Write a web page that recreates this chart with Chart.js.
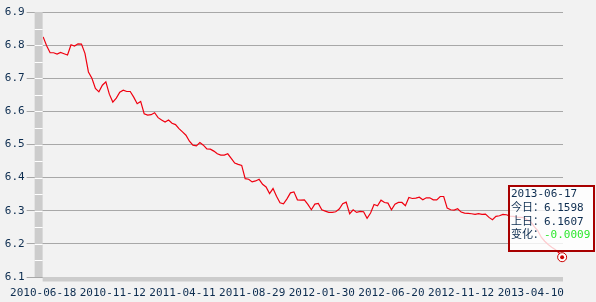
<!DOCTYPE html>
<html>
<head>
<meta charset="utf-8">
<script src="https://cdn.jsdelivr.net/npm/chart.js@4/dist/chart.umd.min.js"></script>
<style>
	html, body { margin: 0; padding: 0; background: #f2f2f2; }
	#wrap { width: 596px; height: 302px; }
</style>
</head>
<body>
<div id="wrap"><canvas id="rateChart" width="596" height="302"></canvas></div>
<script>
// x tick labels, one every 20 points
const tickLabels = [
	"2010-06-18", "2010-11-12", "2011-04-11", "2011-08-29",
	"2012-01-30", "2012-06-20", "2012-11-12", "2013-04-10",
];
const labelStep = 20;

// USD/CNY rate (roughly one point per week)
const rates = [
	6.825, 6.798, 6.777, 6.777, 6.773, 6.778, 6.774, 6.770, 6.801, 6.797,
	6.804, 6.803, 6.775, 6.719, 6.700, 6.669, 6.659, 6.679, 6.689, 6.652,
	6.628, 6.640, 6.658, 6.664, 6.660, 6.660, 6.643, 6.623, 6.630, 6.593,
	6.589, 6.590, 6.596, 6.581, 6.574, 6.568, 6.574, 6.564, 6.560, 6.548,
	6.538, 6.528, 6.510, 6.498, 6.496, 6.506, 6.498, 6.487, 6.486, 6.480,
	6.472, 6.468, 6.468, 6.472, 6.458, 6.444, 6.440, 6.437, 6.397, 6.395,
	6.387, 6.390, 6.395, 6.380, 6.372, 6.352, 6.367, 6.344, 6.324, 6.321,
	6.336, 6.354, 6.357, 6.333, 6.332, 6.333, 6.319, 6.303, 6.320, 6.322,
	6.303, 6.299, 6.295, 6.295, 6.297, 6.305, 6.321, 6.326, 6.291, 6.303,
	6.295, 6.298, 6.297, 6.277, 6.293, 6.319, 6.315, 6.332, 6.325, 6.323,
	6.303, 6.320, 6.325, 6.325, 6.315, 6.340, 6.337, 6.338, 6.341, 6.333,
	6.339, 6.339, 6.333, 6.333, 6.343, 6.343, 6.308, 6.303, 6.302, 6.306,
	6.296, 6.293, 6.292, 6.291, 6.289, 6.291, 6.289, 6.290, 6.280, 6.273,
	6.283, 6.285, 6.289, 6.288, 6.284, 6.283, 6.281, 6.280, 6.279, 6.272,
	6.266, 6.252, 6.240, 6.220, 6.208, 6.198, 6.190, 6.183, 6.174, 6.1598,
];

// y axis range
const yMin = 6.1;
const yMax = 6.9;
const yStep = 0.1;

// tooltip content for the last day
const tipDate = "2013-06-17";
const tipToday = 6.1598;
const tipPrev = 6.1607;
const tipNames = ["今日：", "上日：", "变化："];

const textColor = "#0d2d50";
const monoFont = "'DejaVu Sans Mono', 'Noto Sans CJK SC', monospace";

const decor = {
	id: "decor",
	beforeDraw(chart) {
		const ctx = chart.ctx;
		ctx.save();
		ctx.fillStyle = "#f2f2f2";
		ctx.fillRect(0, 0, chart.width, chart.height);
		ctx.restore();
	},
	afterDraw(chart) {
		const { ctx, chartArea: a, scales } = chart;
		const y = scales.y;
		ctx.save();

		// gray frame bars on the left and bottom
		ctx.fillStyle = "#cccccc";
		ctx.fillRect(a.left - 8, a.top, 8, a.bottom - a.top);
		ctx.fillRect(a.left, a.bottom, a.right - a.left, 4.5);

		// white notches on the left bar, every half step
		ctx.strokeStyle = "#ffffff";
		ctx.lineWidth = 1;
		for (let v = yMin + yStep / 2; v < yMax - 0.001; v += yStep / 2) {
			const py = Math.round(y.getPixelForValue(v)) + 0.5;
			ctx.beginPath();
			ctx.moveTo(a.left - 8, py);
			ctx.lineTo(a.left, py);
			ctx.stroke();
		}

		// tooltip box
		const bx = 509, by = 186, bw = 85, bh = 65;
		ctx.fillStyle = "rgba(255,255,255,0.8)";
		ctx.fillRect(bx, by, bw, bh);
		ctx.strokeStyle = "#a80000";
		ctx.lineWidth = 2;
		ctx.strokeRect(bx, by, bw, bh);

		const diff = tipToday - tipPrev;
		const rows = [
			[tipDate, ""],
			[tipNames[0], tipToday.toFixed(4)],
			[tipNames[1], tipPrev.toFixed(4)],
			[tipNames[2], diff.toFixed(4)],
		];
		ctx.font = "11px " + monoFont;
		ctx.textBaseline = "middle";
		ctx.textAlign = "left";
		rows.forEach((r, k) => {
			const ty = by + 8.5 + k * 13.6;
			ctx.fillStyle = textColor;
			ctx.fillText(r[0], bx + 2, ty);
			if (r[1]) {
				const w = ctx.measureText(r[0]).width;
				ctx.fillStyle = k === 3 ? (diff < 0 ? "#2ee82e" : "#e00000") : textColor;
				ctx.fillText(r[1], bx + 2 + w, ty);
			}
		});

		// highlighted last point
		const meta = chart.getDatasetMeta(0);
		const last = meta.data[meta.data.length - 1];
		ctx.beginPath();
		ctx.arc(last.x, last.y, 4.5, 0, Math.PI * 2);
		ctx.fillStyle = "#ffffff";
		ctx.fill();
		ctx.strokeStyle = "#cc0000";
		ctx.lineWidth = 1;
		ctx.stroke();
		ctx.beginPath();
		ctx.arc(last.x, last.y, 2, 0, Math.PI * 2);
		ctx.fillStyle = "#cc0000";
		ctx.fill();

		ctx.restore();
	},
};

const rateChart = new Chart(document.getElementById("rateChart"), {
	type: "line",
	data: {
		datasets: [
			{
				data: rates.map((v, i) => ({ x: i, y: v })),
				borderColor: "#f00010",
				borderWidth: 1.2,
				pointRadius: 0,
				tension: 0,
			},
		],
	},
	options: {
		responsive: false,
		animation: false,
		devicePixelRatio: 1,
		layout: { padding: { left: 0, right: 33, top: 12, bottom: 0 } },
		plugins: { legend: { display: false }, tooltip: { enabled: false } },
		scales: {
			x: {
				type: "linear",
				min: -0.15,
				max: rates.length - 0.75,
				afterBuildTicks(scale) {
					scale.ticks = tickLabels.map((_, k) => ({ value: k * labelStep }));
				},
				afterFit(scale) {
					scale.height = 25;
				},
				grid: { display: false, drawTicks: false },
				border: { display: false },
				ticks: {
					autoSkip: false,
					maxRotation: 0,
					padding: 10,
					color: textColor,
					font: { family: monoFont, size: 11 },
					callback: (v) => tickLabels[Math.round(v / labelStep)],
				},
			},
			y: {
				min: yMin,
				max: yMax,
				afterFit(scale) {
					scale.width = 39;
				},
				grid: {
					color: "#a8a8a8",
					tickColor: "#a8a8a8",
					tickLength: 16,
				},
				border: { display: false },
				ticks: {
					stepSize: yStep,
					padding: 2,
					color: textColor,
					font: { family: monoFont, size: 11 },
					callback: (v) => v.toFixed(1),
				},
			},
		},
	},
	plugins: [decor],
});
</script>
</body>
</html>
